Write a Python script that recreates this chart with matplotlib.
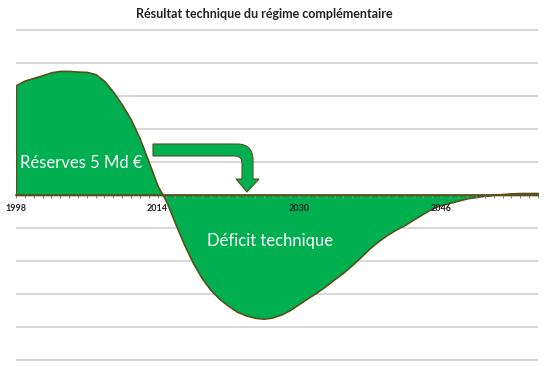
import numpy as np
import matplotlib
matplotlib.use("Agg")
import matplotlib.pyplot as plt
from matplotlib.path import Path
from matplotlib.patches import PathPatch
from matplotlib.transforms import Affine2D

plt.rcParams["font.family"] = ["Lato", "DejaVu Sans"]

# Résultat technique annuel (unités de grille)
years = np.arange(1998, 2058)
resultat = [
    3.33, 3.47, 3.55, 3.63, 3.72, 3.76, 3.76, 3.74, 3.73, 3.66,
    3.45, 3.12, 2.73, 2.28, 1.70, 1.00, 0.28, -0.20, -0.87, -1.50,
    -2.06, -2.52, -2.88, -3.15, -3.36, -3.54, -3.65, -3.72, -3.75, -3.71,
    -3.62, -3.48, -3.30, -3.12, -2.95, -2.76, -2.55, -2.35, -2.12, -1.87,
    -1.61, -1.39, -1.20, -1.04, -0.90, -0.73, -0.57, -0.41, -0.31, -0.24,
    -0.17, -0.10, -0.06, -0.02, 0.01, 0.03, 0.05, 0.06, 0.06, 0.06,
]
major_years = [1998, 2014, 2030, 2046]
grid_levels = [-5, -4, -3, -2, -1, 1, 2, 3, 4, 5]

GREEN = "#00b050"
EDGE = "#57501c"

W, H = 547, 366
fig = plt.figure(figsize=(W / 100, H / 100), dpi=100)
# zone de tracé : x 16→538 px, zéro à y=195 px, 33 px par graduation
y_top, y_bot = (195 - 25) / 33, (195 - 366) / 33
ax = fig.add_axes([16 / W, 0, 522 / W, (366 - 25) / H])
ax.set_xlim(1998, 2057)
ax.set_ylim(y_bot, y_top)

for g in grid_levels:
    ax.axhline(g, color="#d4d4d4", lw=1.3, zorder=0.5)

ax.fill_between(years, resultat, 0, color=GREEN, edgecolor=EDGE, lw=1.2, zorder=1)

for s in ("left", "right", "top"):
    ax.spines[s].set_visible(False)
ax.spines["bottom"].set_position(("data", 0))
ax.spines["bottom"].set_color(EDGE)
ax.spines["bottom"].set_linewidth(1.2)
ax.set_yticks([])
ax.set_xticks(major_years)
ax.set_xticks(years, minor=True)
ax.tick_params(axis="x", which="both", direction="out", length=2.2, width=0.8,
               color="#8a8a70", pad=4, labelsize=6.5, labelcolor="#222222")
for lab in ax.get_xticklabels():
    lab.set_fontweight("bold")

fig.text(264 / W, 1 - 14 / H, "Résultat technique du régime complémentaire",
         ha="center", va="center", fontsize=9, fontweight="bold", color="#222222")

fig.text(20 / W, 1 - 168 / H, "Réserves 5 Md €", ha="left", va="baseline",
         fontsize=12, color="white", zorder=5)
fig.text(270 / W, 1 - 246 / H, "Déficit technique", ha="center", va="baseline",
         fontsize=12, color="white", zorder=5)

# flèche coudée (coordonnées en pixels, origine en haut à gauche)
px = Affine2D().scale(1 / W, -1 / H).translate(0, 1) + fig.transFigure
verts = [
    (153, 144), (237, 144), (253, 144), (253, 160), (253, 179),
    (259, 179), (247, 192), (236, 179), (242, 179), (242, 163),
    (242, 156), (235, 156), (153, 156), (153, 144),
]
codes = [
    Path.MOVETO, Path.LINETO, Path.CURVE3, Path.CURVE3, Path.LINETO,
    Path.LINETO, Path.LINETO, Path.LINETO, Path.LINETO, Path.LINETO,
    Path.CURVE3, Path.CURVE3, Path.LINETO, Path.CLOSEPOLY,
]
arrow = PathPatch(Path(verts, codes), facecolor=GREEN, edgecolor=EDGE,
                  lw=0.8, transform=px, zorder=4)
fig.add_artist(arrow)

fig.savefig("out.png", dpi=100)
